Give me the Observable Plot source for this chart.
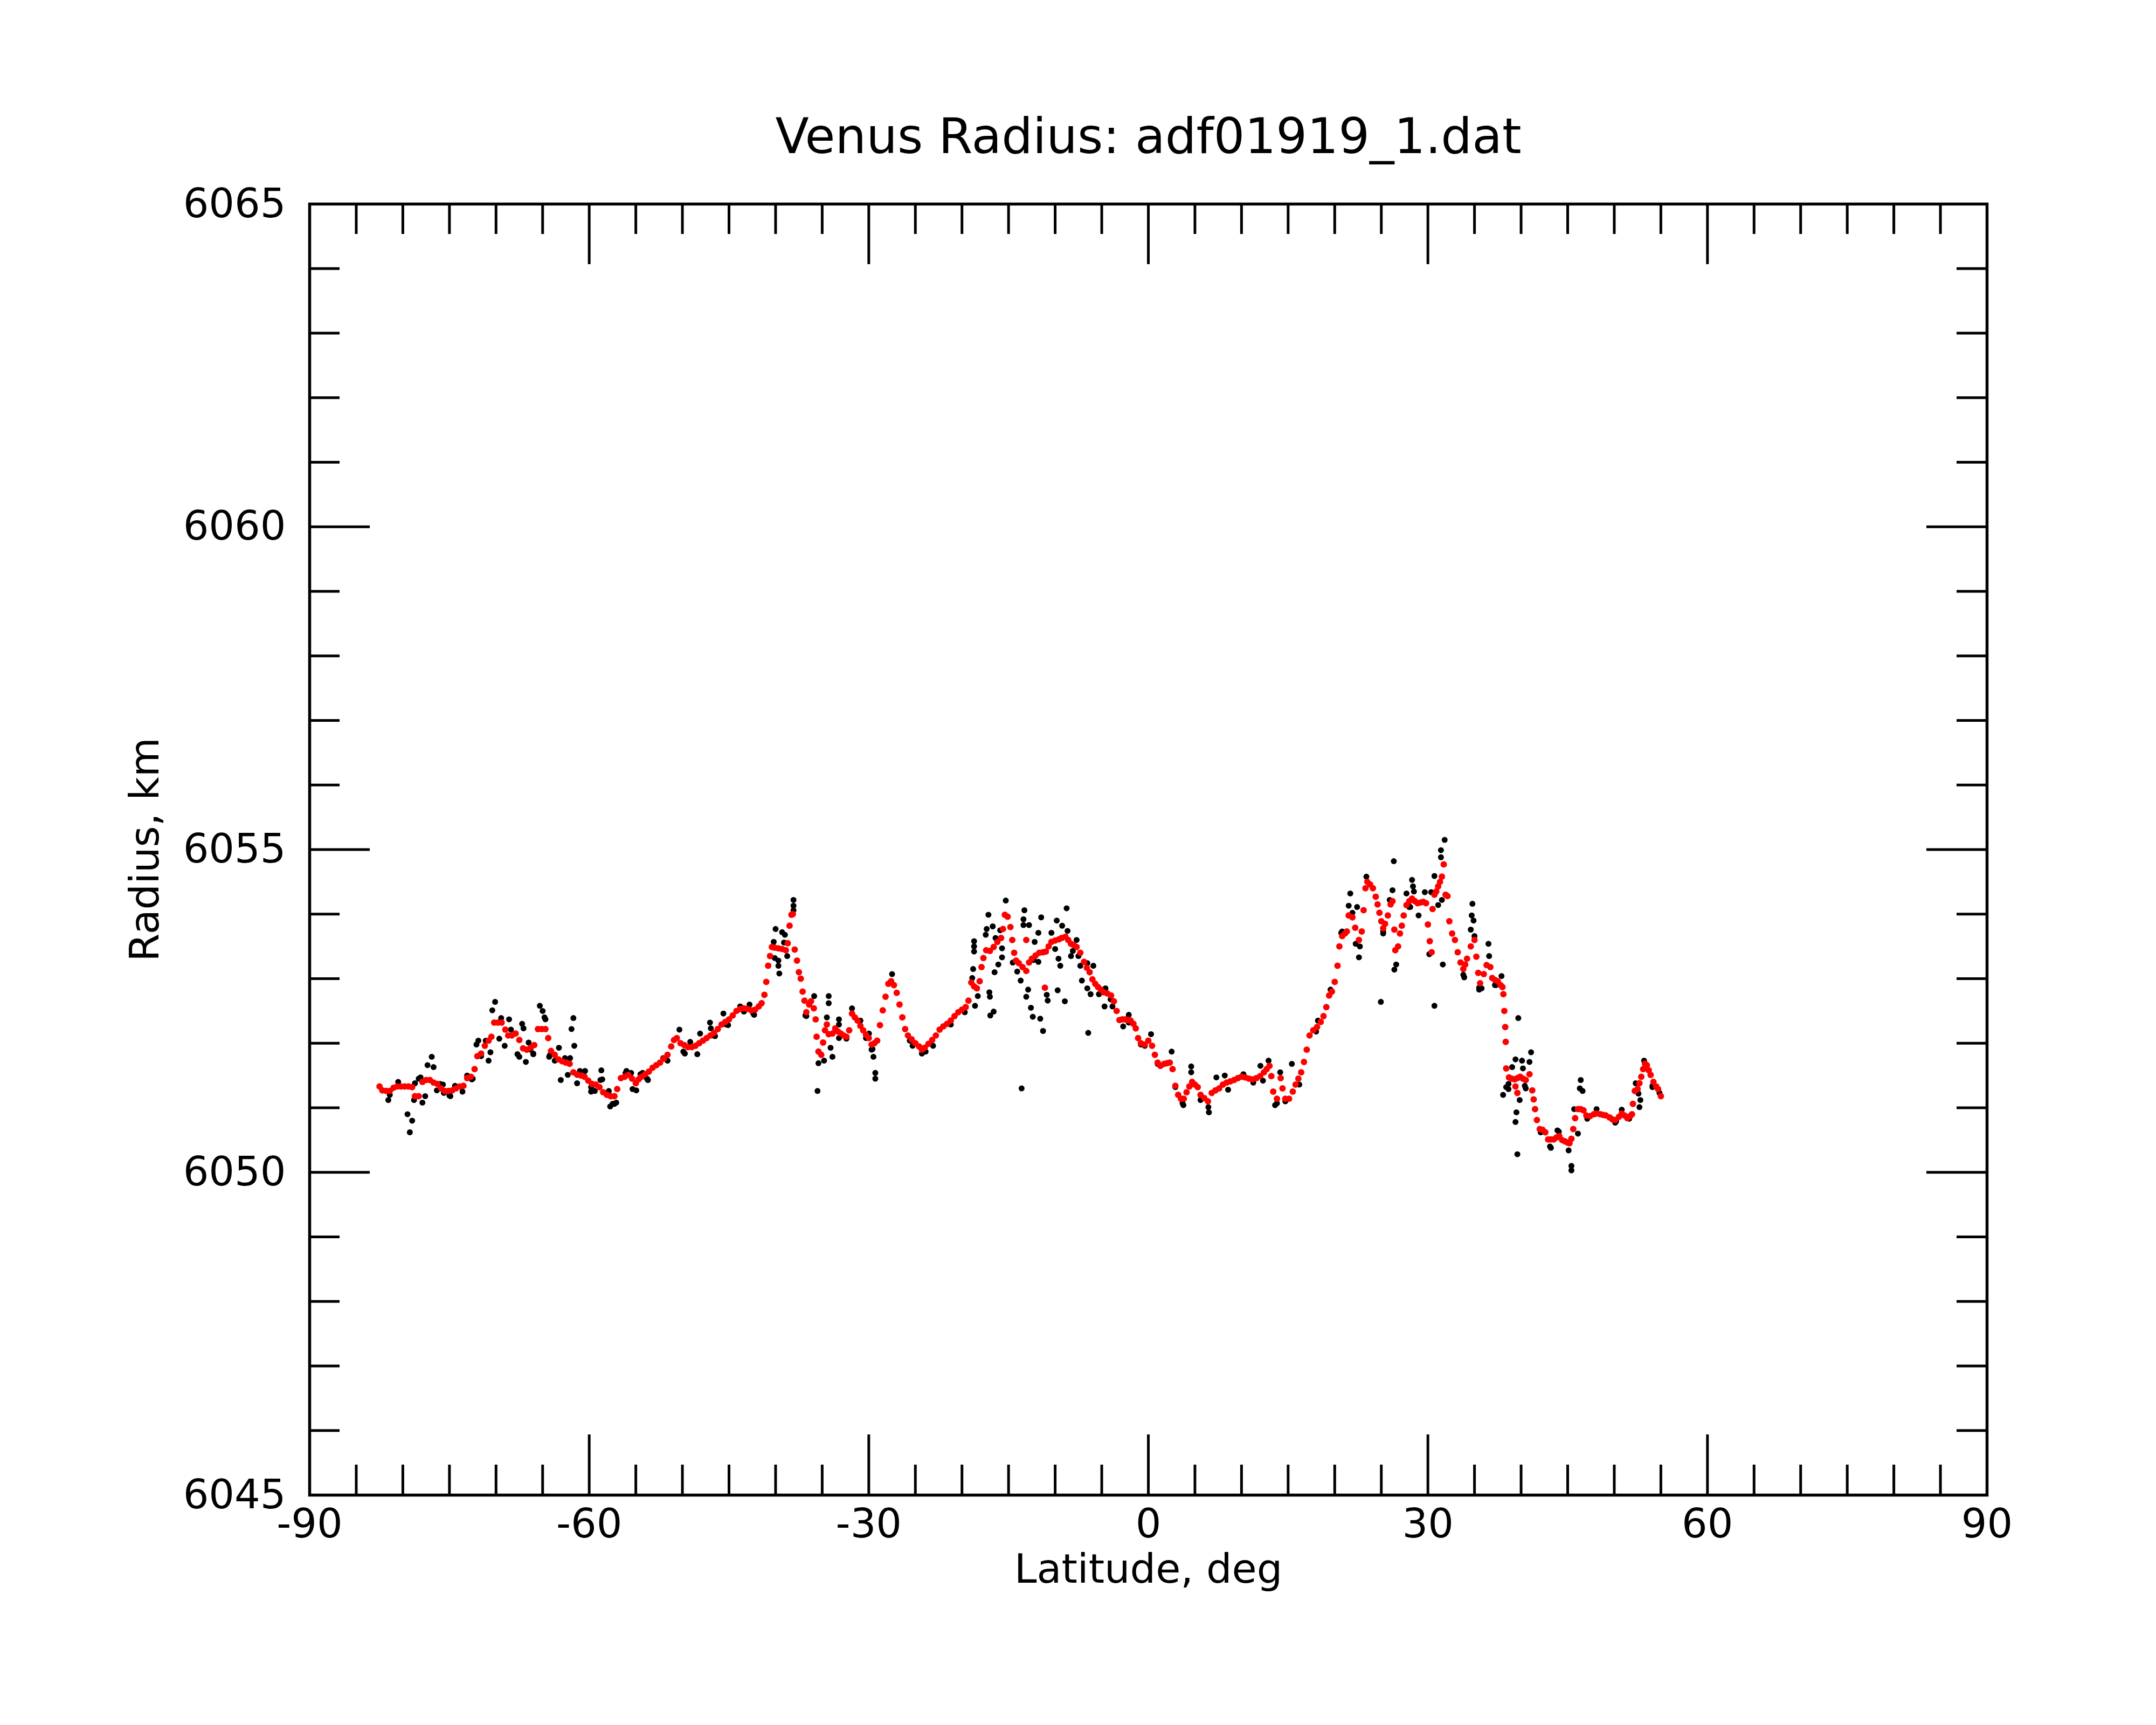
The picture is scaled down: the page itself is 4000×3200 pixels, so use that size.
<!DOCTYPE html>
<html>
<head>
<meta charset="utf-8">
<script src="https://cdn.jsdelivr.net/npm/d3@7"></script>
<script src="https://cdn.jsdelivr.net/npm/@observablehq/plot@0.6"></script>
<style>
  html, body { margin: 0; padding: 0; background: #ffffff; }
</style>
</head>
<body>
<div id="chart"></div>
<script>
const titleText = "Venus Radius: adf01919_1.dat";
const xLabelText = "Latitude, deg";
const yLabelText = "Radius, km";

const xMajor = [-90, -60, -30, 0, 30, 60, 90];
const xMinor = [-85,-80,-75,-70,-65,-55,-50,-45,-40,-35,-25,-20,-15,-10,-5,5,10,15,20,25,35,40,45,50,55,65,70,75,80,85];
const yMajor = [6045, 6050, 6055, 6060, 6065];
const yMinor = [6046,6047,6048,6049,6051,6052,6053,6054,6056,6057,6058,6059,6061,6062,6063,6064];

// smoothed profile (red)
const redLat = [
-82.5,-82.2,-81.8,-81.4,-81.0,-80.6,-80.2,-79.8,-79.4,-79.0,
-78.7,-78.3,-77.9,-77.5,-77.1,-76.7,-76.3,-75.9,-75.5,-75.1,
-74.7,-74.3,-73.9,-73.5,-73.1,-72.7,-72.3,-72.0,-71.6,-71.2,
-70.8,-70.5,-70.2,-69.8,-69.4,-69.0,-68.7,-68.3,-67.9,-67.5,
-67.1,-66.7,-66.3,-65.9,-65.5,-65.1,-64.7,-64.4,-64.1,-63.7,
-63.3,-62.9,-62.5,-62.1,-61.7,-61.3,-60.9,-60.5,-60.1,-59.7,
-59.3,-58.9,-58.5,-58.1,-57.7,-57.3,-57.0,-56.6,-56.2,-55.8,
-55.4,-55.0,-54.7,-54.4,-54.0,-53.6,-53.2,-52.8,-52.4,-52.0,
-51.6,-51.2,-50.9,-50.6,-50.2,-49.8,-49.4,-49.0,-48.6,-48.2,
-47.8,-47.4,-47.0,-46.6,-46.2,-45.8,-45.4,-45.0,-44.6,-44.2,
-43.8,-43.4,-43.0,-42.6,-42.2,-41.8,-41.5,-41.2,-41.0,-40.8,
-40.6,-40.4,-40.1,-39.7,-39.3,-38.9,-38.7,-38.5,-38.3,-38.15,
-37.95,-37.7,-37.5,-37.3,-37.1,-36.9,-36.7,-36.4,-36.2,-35.9,
-35.7,-35.6,-35.4,-35.1,-34.9,-34.7,-34.5,-34.3,-33.9,-33.6,
-33.3,-33.0,-32.7,-32.4,-32.1,-31.8,-31.5,-31.2,-30.9,-30.6,
-30.3,-30.0,-29.7,-29.4,-29.1,-28.8,-28.5,-28.2,-27.9,-27.6,
-27.3,-27.0,-26.7,-26.4,-26.1,-25.8,-25.4,-25.0,-24.6,-24.3,
-24.0,-23.6,-23.2,-22.8,-22.4,-22.0,-21.6,-21.2,-20.8,-20.4,
-20.0,-19.6,-19.3,-19.0,-18.7,-18.4,-18.1,-17.9,-17.7,-17.4,
-17.0,-16.6,-16.2,-15.8,-15.6,-15.4,-15.1,-14.8,-14.6,-14.4,
-14.2,-13.9,-13.5,-13.1,-12.8,-12.5,-12.1,-11.7,-11.3,-11.0,
-10.7,-10.4,-10.0,-9.6,-9.3,-8.9,-8.6,-8.3,-8.0,-7.7,
-7.3,-6.9,-6.6,-6.3,-6.0,-5.7,-5.4,-5.1,-4.8,-4.4,
-4.0,-3.7,-3.4,-3.1,-2.8,-2.5,-2.2,-1.9,-1.6,-1.35,
-1.1,-0.8,-0.4,0.0,0.4,0.7,1.0,1.3,1.7,2.0,
2.3,2.6,2.9,3.2,3.5,3.8,4.1,4.4,4.7,5.0,
5.3,5.6,6.0,6.4,6.8,7.2,7.6,8.0,8.4,8.8,
9.2,9.6,10.0,10.4,10.8,11.2,11.6,12.0,12.4,12.7,
13.0,13.2,13.4,13.8,14.2,14.4,14.7,15.1,15.5,15.8,
16.1,16.4,16.7,17.0,17.3,17.7,18.1,18.5,18.8,19.1,
19.4,19.7,20.0,20.3,20.5,20.8,21.1,21.3,21.5,21.9,
22.2,22.6,22.9,23.1,23.3,23.5,23.8,24.1,24.4,24.6,
24.8,25.0,25.2,25.4,25.7,26.0,26.2,26.4,26.5,26.8,
27.0,27.2,27.4,27.7,28.0,28.3,28.6,28.9,29.2,29.5,
29.8,30.0,30.2,30.4,30.5,30.7,30.9,31.1,31.3,31.5,
31.7,31.9,32.1,32.3,32.6,32.9,33.2,33.5,33.8,34.0,
34.2,34.6,35.0,35.2,35.4,35.6,36.0,36.3,36.7,36.9,
37.2,37.5,37.8,38.0,38.1,38.2,38.3,38.35,38.4,38.7,
39.0,39.3,39.6,39.9,40.2,40.5,40.9,41.2,41.35,41.5,
41.7,42.0,42.3,42.6,42.9,43.2,43.5,43.8,44.1,44.4,
44.7,45.0,45.2,45.4,45.6,45.8,46.1,46.4,46.7,47.0,
47.4,47.8,48.1,48.5,48.8,49.1,49.5,49.8,50.1,50.5,
50.8,51.1,51.4,51.7,51.9,52.0,52.2,52.5,52.7,52.9,
53.1,53.3,53.5,53.7,53.9,54.2,54.5,54.7,55.0,
-11.1,-13.1,39.4,39.6
];
const redRadius = [
6051.33,6051.27,6051.26,6051.26,6051.31,6051.33,6051.33,6051.33,6051.33,6051.32,
6051.18,6051.18,6051.40,6051.43,6051.43,6051.39,6051.37,6051.30,6051.26,6051.26,
6051.27,6051.30,6051.33,6051.34,6051.46,6051.48,6051.60,6051.80,6051.84,6051.96,
6052.04,6052.10,6052.32,6052.32,6052.32,6052.21,6052.12,6052.12,6052.15,6052.05,
6051.92,6051.90,6051.93,6051.97,6052.22,6052.22,6052.22,6052.08,6051.88,6051.82,
6051.75,6051.72,6051.70,6051.68,6051.55,6051.52,6051.50,6051.48,6051.42,6051.37,
6051.36,6051.32,6051.24,6051.20,6051.18,6051.18,6051.29,6051.46,6051.48,6051.51,
6051.45,6051.38,6051.44,6051.48,6051.52,6051.56,6051.62,6051.66,6051.70,6051.76,
6051.82,6051.95,6052.05,6052.08,6052.00,6051.97,6051.94,6051.94,6051.96,6052.00,
6052.04,6052.08,6052.12,6052.16,6052.22,6052.29,6052.33,6052.37,6052.43,6052.50,
6052.53,6052.54,6052.53,6052.51,6052.52,6052.57,6052.62,6052.75,6052.95,6053.20,
6053.35,6053.49,6053.48,6053.47,6053.46,6053.44,6053.55,6053.82,6053.99,6054.00,
6053.45,6053.28,6053.10,6053.00,6052.80,6052.66,6052.48,6052.60,6052.65,6052.54,
6052.37,6052.10,6051.87,6051.82,6052.01,6052.20,6052.29,6052.14,6052.15,6052.23,
6052.18,6052.15,6052.12,6052.10,6052.20,6052.46,6052.40,6052.35,6052.27,6052.20,
6052.13,6052.08,6051.98,6052.00,6052.04,6052.28,6052.51,6052.72,6052.92,6052.96,
6052.90,6052.78,6052.60,6052.40,6052.22,6052.12,6052.06,6052.00,6051.95,6051.90,
6051.93,6051.99,6052.05,6052.12,6052.21,6052.26,6052.30,6052.35,6052.42,6052.48,
6052.52,6052.56,6052.66,6052.94,6052.88,6052.85,6052.96,6053.18,6053.32,6053.44,
6053.43,6053.49,6053.57,6053.63,6053.77,6053.99,6053.96,6053.80,6053.60,6053.40,
6053.28,6053.24,6053.18,6053.12,6053.25,6053.31,6053.36,6053.40,6053.41,6053.42,
6053.50,6053.57,6053.59,6053.61,6053.63,6053.65,6053.60,6053.54,6053.52,6053.49,
6053.40,6053.26,6053.17,6053.10,6052.99,6052.92,6052.87,6052.83,6052.79,6052.77,
6052.74,6052.65,6052.50,6052.36,6052.37,6052.37,6052.36,6052.35,6052.30,6052.23,
6052.08,6052.00,6051.98,6052.04,6051.96,6051.82,6051.70,6051.65,6051.68,6051.69,
6051.70,6051.60,6051.34,6051.20,6051.14,6051.14,6051.24,6051.33,6051.40,6051.36,
6051.32,6051.20,6051.15,6051.10,6051.23,6051.27,6051.30,6051.36,6051.39,6051.41,
6051.43,6051.46,6051.48,6051.47,6051.45,6051.44,6051.46,6051.49,6051.55,6051.60,
6051.65,6051.49,6051.25,6051.14,6051.46,6051.30,6051.14,6051.14,6051.25,6051.36,
6051.45,6051.55,6051.71,6051.90,6052.12,6052.20,6052.25,6052.33,6052.42,6052.56,
6052.74,6052.80,6052.95,6053.20,6053.50,6053.66,6053.70,6053.73,6053.98,6053.95,
6053.79,6053.60,6053.73,6054.06,6054.40,6054.50,6054.46,6054.40,6054.27,6054.15,
6054.02,6053.89,6053.78,6053.85,6053.98,6054.15,6054.20,6053.76,6053.44,6053.50,
6053.70,6053.82,6053.98,6054.14,6054.20,6054.24,6054.20,6054.17,6054.18,6054.19,
6054.17,6053.84,6053.58,6053.41,6054.08,6054.30,6054.35,6054.43,6054.50,6054.58,
6054.77,6054.30,6054.28,6053.89,6053.70,6053.60,6053.41,6053.25,6053.15,6053.22,
6053.31,6053.50,6053.60,6053.34,6053.09,6052.93,6053.07,6053.21,6053.18,6053.01,
6052.98,6052.96,6052.90,6052.87,6052.76,6052.50,6052.25,6052.02,6051.61,6051.47,
6051.45,6051.44,6051.46,6051.48,6051.45,6051.43,6051.52,6051.27,6051.13,6050.98,
6050.81,6050.67,6050.66,6050.62,6050.51,6050.51,6050.51,6050.54,6050.56,6050.50,
6050.48,6050.46,6050.45,6050.52,6050.67,6050.84,6050.98,6050.98,6050.96,6050.88,
6050.87,6050.90,6050.91,6050.90,6050.89,6050.88,6050.85,6050.82,6050.81,6050.86,
6050.91,6050.88,6050.84,6050.87,6050.90,6051.06,6051.26,6051.29,6051.38,6051.48,
6051.60,6051.68,6051.66,6051.58,6051.51,6051.40,6051.33,6051.29,6051.18,
6052.86,6053.60,6051.33,6051.23
];

// raw measurements (black)
const blackLat = [
-81.56,-81.4,-80.5,-79.5,-79.0,-79.25,-78.8,-78.7,-78.1,-77.6,
-77.9,-77.35,-76.9,-76.7,-76.35,-75.7,-74.9,-74.4,-73.6,-72.5,
-72.1,-71.9,-71.1,-70.6,-70.8,-70.4,-70.1,-69.45,-69.65,-69.07,
-68.6,-68.4,-67.7,-67.5,-67.2,-67.05,-66.8,-66.5,-66.0,-65.3,
-65.0,-64.8,-64.7,-64.3,-63.7,-63.25,-63.05,-62.6,-62.3,-62.05,
-61.9,-61.7,-61.6,-61.3,-61.0,-60.45,-59.8,-59.4,-58.7,-58.8,
-58.6,-57.9,-57.75,-57.3,-56.0,-55.5,-55.35,-54.95,-54.5,-54.27,
-53.7,-52.06,-51.6,-50.32,-49.74,-49.16,-48.4,-48.1,-47.04,-46.95,
-46.5,-45.6,-45.1,-43.8,-42.8,-42.3,-40.2,-40.0,-39.3,-39.0,
-39.1,-39.7,-39.7,-39.6,-38.75,-40.1,-38.08,-38.08,-38.08,-36.7,
-35.86,-35.4,-34.8,-35.5,-34.3,-34.3,-34.5,-34.1,-33.9,-33.2,
-33.2,-31.8,-30.9,-29.98,-29.6,-29.5,-29.3,-29.3,-27.5,-25.6,
-24.1,-18.8,-18.7,-18.7,-18.7,-18.9,-18.6,-18.3,-17.45,-17.35,
-17.16,-17.06,-17.0,-16.96,-16.6,-16.7,-16.5,-16.4,-16.1,-15.9,
-15.7,-15.7,-15.3,-14.55,-14.07,-13.7,-13.6,-13.4,-13.3,-13.4,
-12.9,-13.1,-12.8,-12.6,-12.4,-12.2,-11.8,-11.6,-11.5,-11.3,
-10.9,-10.8,-10.4,-10.0,-9.73,-9.64,-9.45,-9.83,-9.25,-8.96,
-8.77,-8.67,-8.3,-7.7,-7.3,-7.13,-6.55,-6.45,-6.2,-5.9,
-4.7,-4.6,-3.85,-2.7,-2.1,-0.38,0.29,2.5,4.6,4.6,
3.76,6.5,6.44,7.3,8.2,10.2,12.03,12.9,13.6,14.15,
15.4,16.2,18.2,19.55,20.8,21.67,21.5,22.4,21.9,22.6,
22.7,23.4,24.95,25.2,25.9,26.2,26.34,26.6,26.4,27.7,
28.3,28.4,28.5,28.1,29.0,29.67,30.35,30.15,30.7,30.7,
31.1,31.4,31.4,31.8,31.6,31.5,33.9,34.6,34.7,34.78,
34.9,35.0,35.5,36.5,36.57,35.76,37.9,37.2,39.7,38.07,
38.65,38.65,39.04,39.4,40.1,40.2,40.5,40.9,41.07,39.85,
39.5,39.4,39.6,42.1,43.2,44.05,45.1,45.4,45.4,46.1,
46.4,46.3,46.6,45.7,47.1,48.1,50.1,50.8,52.3,52.6,
52.8,52.7,53.2,54.1,
-78.3,-76.0,-75.6,-75.0,-73.1,-72.6,-71.6,-66.3,-66.0,-64.2,
-61.3,-60.5,-59.8,-57.5,-57.1,-56.1,-53.8,-49.9,-46.7,-45.3,
-43.4,-42.4,-36.8,-33.2,-32.4,-30.3,-29.7,-25.3,-24.3,-23.9,
-23.1,-21.2,-19.7,-12.3,-11.8,-8.1,-7.5,-6.55,-5.3,-4.05,
-2.1,-0.8,1.0,2.9,3.67,5.6,8.56,11.26,12.3,13.8,
14.7,18.0,20.7,22.25,25.2,28.0,33.8,35.5,37.3,38.4,
40.4,43.1,43.9,50.2,51.6,54.1,54.85
];
const blackRadius = [
6051.12,6051.20,6051.40,6050.90,6050.80,6050.62,6051.12,6051.38,6051.47,6051.18,
6051.08,6051.66,6051.79,6051.63,6051.27,6051.36,6051.18,6051.34,6051.25,6051.45,
6051.98,6052.04,6052.04,6051.86,6051.73,6052.51,6052.64,6052.39,6052.07,6051.96,
6052.37,6052.21,6051.83,6051.79,6052.30,6052.23,6051.71,6052.01,6051.83,6052.58,
6052.50,6052.40,6052.37,6051.79,6051.73,6051.93,6051.43,6051.77,6051.51,6051.77,
6052.22,6052.39,6051.96,6051.38,6051.57,6051.57,6051.25,6051.26,6051.58,6051.43,
6051.44,6051.26,6051.02,6051.06,6051.57,6051.54,6051.29,6051.27,6051.52,6051.54,
6051.43,6051.77,6051.73,6052.21,6051.84,6052.02,6051.83,6052.15,6052.32,6052.23,
6052.11,6052.46,6052.28,6052.57,6052.60,6052.44,6053.57,6053.77,6053.72,6053.68,
6053.56,6053.28,6053.20,6053.08,6053.35,6053.32,6054.22,6054.13,6054.06,6052.42,
6052.73,6051.69,6051.73,6051.26,6052.73,6052.62,6052.40,6051.93,6051.79,6052.37,
6052.29,6052.54,6052.35,6052.15,6051.91,6051.79,6051.54,6051.45,6053.07,6052.04,
6051.87,6053.15,6053.58,6053.50,6053.42,6053.01,6052.58,6052.73,6053.68,6053.77,
6053.99,6052.79,6052.72,6052.43,6052.49,6053.81,6053.10,6053.63,6053.22,6053.75,
6053.47,6053.33,6054.21,6053.25,6053.11,6052.97,6051.30,6053.92,6054.06,6053.83,
6052.83,6052.72,6053.83,6052.55,6052.41,6053.57,6053.71,6052.38,6053.95,6052.19,
6052.75,6052.66,6053.71,6053.46,6052.82,6053.31,6053.20,6053.90,6053.82,6052.65,
6054.09,6053.74,6053.35,6053.60,6053.20,6052.97,6052.85,6052.16,6052.76,6053.20,
6052.57,6052.85,6052.57,6052.26,6052.44,6051.96,6052.14,6051.87,6051.64,6051.55,
6051.04,6050.93,6051.01,6051.47,6051.50,6051.52,6051.65,6051.73,6051.04,6051.55,
6051.68,6051.36,6052.35,6052.83,6053.73,6054.32,6054.13,6054.11,6054.02,6053.33,
6053.50,6054.58,6052.64,6053.70,6054.22,6054.37,6054.82,6053.22,6053.14,6054.32,
6054.53,6054.43,6054.35,6054.11,6053.98,6054.34,6054.34,6053.38,6052.58,6054.59,
6054.14,6054.99,6054.88,6055.15,6053.22,6054.22,6053.02,6053.76,6053.98,6054.16,
6053.90,6053.66,6052.83,6053.54,6053.35,6052.85,6053.04,6052.90,6052.39,6051.20,
6051.37,6051.29,6051.63,6051.75,6051.73,6051.61,6051.30,6051.71,6051.86,6051.12,
6050.93,6050.78,6050.28,6050.62,6050.38,6050.63,6050.34,6050.10,6050.03,6050.60,
6051.43,6051.30,6051.26,6050.98,6050.83,6050.98,6050.77,6050.97,6051.38,6051.22,
6051.12,6051.01,6051.73,6051.32,
6051.45,6051.37,6051.23,6051.19,6051.50,6051.44,6051.80,6051.90,6051.84,6051.82,
6051.51,6051.48,6051.32,6051.06,6051.08,6051.54,6051.45,6051.87,6052.12,6052.29,
6052.49,6052.46,6052.43,6052.08,6052.07,6052.08,6051.90,6051.96,6051.84,6051.87,
6051.96,6052.29,6052.48,6053.29,6053.26,6053.43,6053.35,6053.24,6052.76,6052.68,
6052.32,6051.98,6051.68,6051.32,6051.07,6051.12,6051.28,6051.39,6051.42,6051.07,
6051.10,6052.18,6053.71,6053.54,6053.73,6054.11,6053.06,6052.86,6052.90,6051.32,
6051.34,6050.40,6050.65,6050.79,6050.83,6051.34,6051.23
];

const red = redLat.map((lat, i) => ({lat, r: redRadius[i]}));
const black = blackLat.map((lat, i) => ({lat, r: blackRadius[i]}));

const W = 4000, H = 3200;
const mL = 574, mR = 314, mT = 378, mB = 427;
const plotW = W - mL - mR, plotH = H - mT - mB;
const tickW = 5;

const chart = Plot.plot({
  width: W,
  height: H,
  marginLeft: mL,
  marginRight: mR,
  marginTop: mT,
  marginBottom: mB,
  style: {fontFamily: "DejaVu Sans", background: "#ffffff", color: "#000000", overflow: "visible"},
  x: {domain: [-90, 90], axis: null},
  y: {domain: [6045, 6065], axis: null},
  marks: [
    Plot.dot(black, {x: "lat", y: "r", r: 5.5, fill: "#000000"}),
    Plot.dot(red, {x: "lat", y: "r", r: 6, fill: "#ff0000"}),
    // x ticks, bottom and top, inward
    Plot.ruleX(xMajor, {x: d => d, insetTop: plotH - 112, stroke: "#000", strokeWidth: tickW}),
    Plot.ruleX(xMajor, {x: d => d, insetBottom: plotH - 112, stroke: "#000", strokeWidth: tickW}),
    Plot.ruleX(xMinor, {x: d => d, insetTop: plotH - 56, stroke: "#000", strokeWidth: tickW}),
    Plot.ruleX(xMinor, {x: d => d, insetBottom: plotH - 56, stroke: "#000", strokeWidth: tickW}),
    // y ticks, left and right, inward
    Plot.ruleY(yMajor, {y: d => d, insetRight: plotW - 112, stroke: "#000", strokeWidth: tickW}),
    Plot.ruleY(yMajor, {y: d => d, insetLeft: plotW - 112, stroke: "#000", strokeWidth: tickW}),
    Plot.ruleY(yMinor, {y: d => d, insetRight: plotW - 56, stroke: "#000", strokeWidth: tickW}),
    Plot.ruleY(yMinor, {y: d => d, insetLeft: plotW - 56, stroke: "#000", strokeWidth: tickW}),
    Plot.frame({stroke: "#000", strokeWidth: 5.5}),
    // tick labels
    Plot.text(xMajor, {x: d => d, text: d => String(d), frameAnchor: "bottom", dy: 25, lineAnchor: "top", textAnchor: "middle", fontSize: 75, fill: "#000"}),
    Plot.text(yMajor, {y: d => d, text: d => String(d), frameAnchor: "left", dx: -44, lineAnchor: "middle", textAnchor: "end", fontSize: 75, fill: "#000"}),
    // title and axis labels
    Plot.text([titleText], {text: d => d, frameAnchor: "top", dy: -95, lineAnchor: "bottom", textAnchor: "middle", fontSize: 91, fill: "#000"}),
    Plot.text([xLabelText], {text: d => d, frameAnchor: "bottom", dy: 162, lineAnchor: "bottom", textAnchor: "middle", fontSize: 75, fill: "#000"}),
    Plot.text([yLabelText], {text: d => d, frameAnchor: "left", dx: -281, rotate: -90, lineAnchor: "bottom", textAnchor: "middle", fontSize: 75, fill: "#000"})
  ]
});
document.getElementById("chart").appendChild(chart);
</script>
</body>
</html>
